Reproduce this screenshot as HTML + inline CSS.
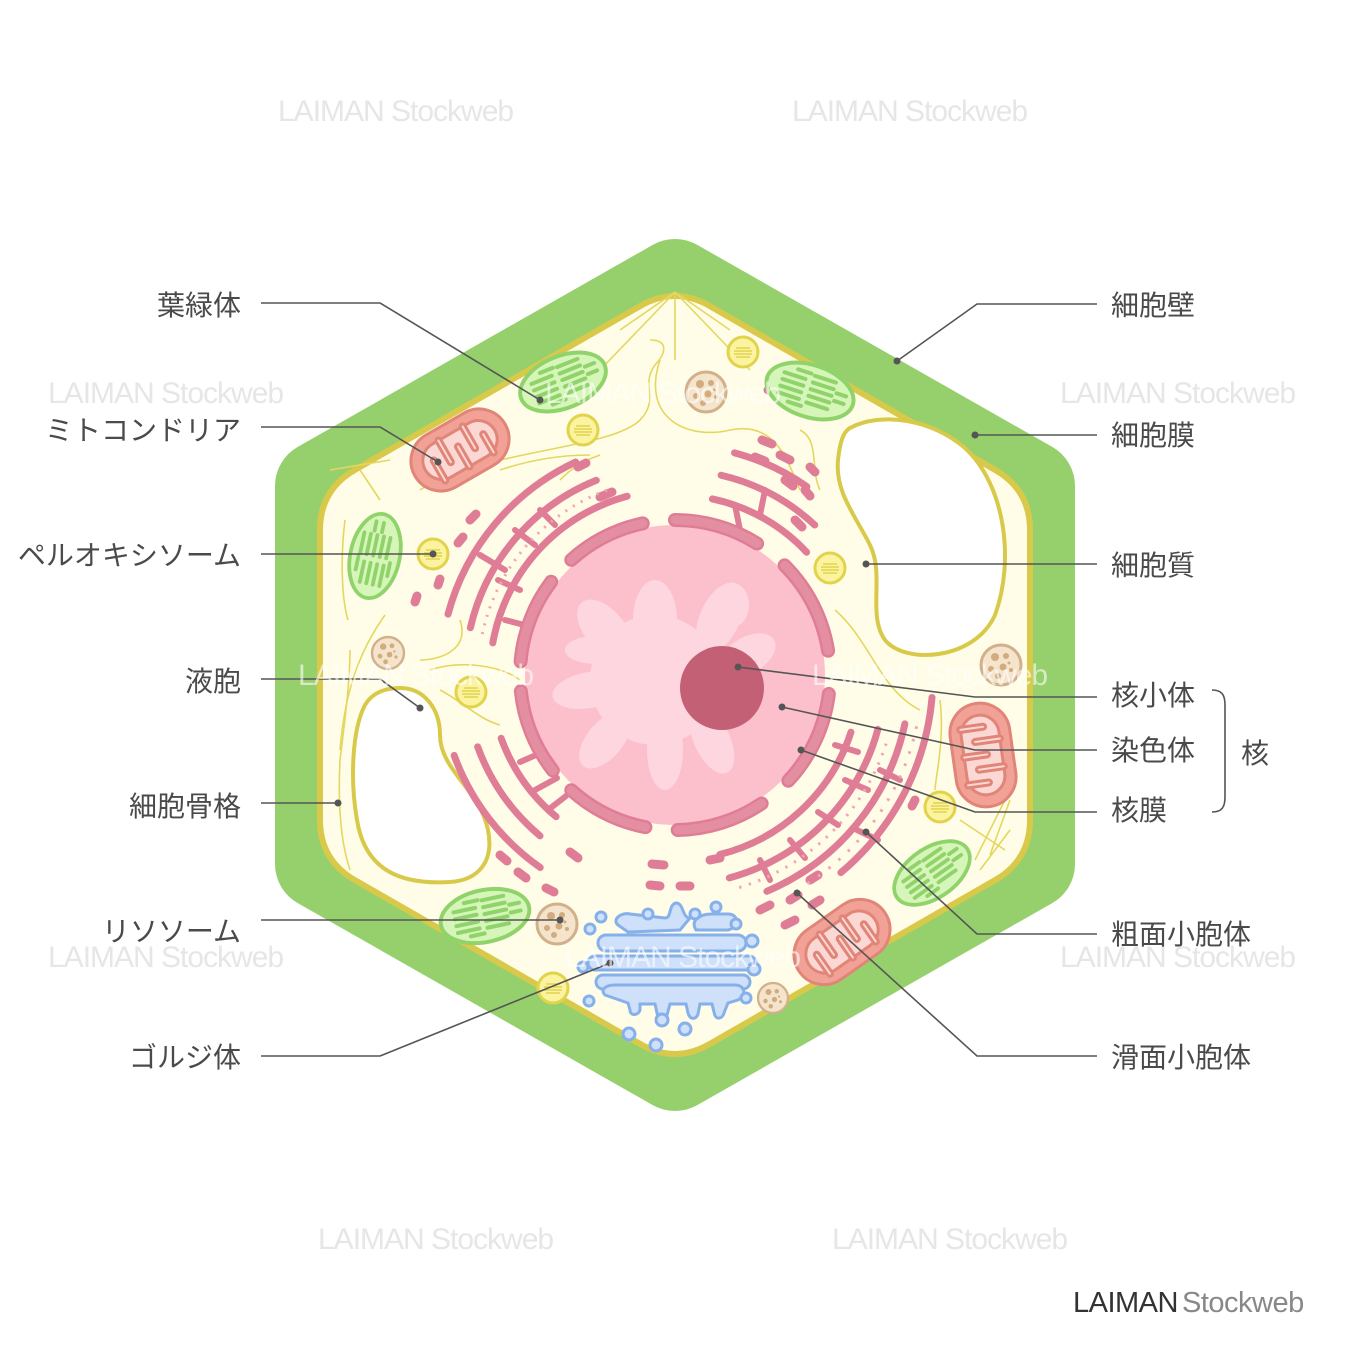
<!DOCTYPE html>
<html><head><meta charset="utf-8"><style>
html,body{margin:0;padding:0;background:#fff;}
svg{display:block;}
.lb{font-family:"Liberation Sans","Noto Sans CJK JP",sans-serif;font-size:28px;fill:#4a4a4a;}
.wm{font-family:"Liberation Sans",sans-serif;font-size:30px;fill:#e6e6e6;letter-spacing:-1px;}
</style></head><body>
<svg width="1350" height="1350" viewBox="0 0 1350 1350" xmlns="http://www.w3.org/2000/svg">
<defs>
<g id="chl">
 <ellipse cx="0" cy="0" rx="45" ry="26" fill="#d6f5b8" stroke="#8fd36a" stroke-width="4"/>
 <g stroke="#8fd36a" stroke-width="4" stroke-linecap="round">
  <line x1="-30" y1="-10" x2="-8" y2="-10"/><line x1="-30" y1="-3" x2="-8" y2="-3"/><line x1="-30" y1="4" x2="-8" y2="4"/><line x1="-30" y1="11" x2="-8" y2="11"/>
  <line x1="0" y1="-16" x2="22" y2="-16"/><line x1="0" y1="-9" x2="22" y2="-9"/><line x1="0" y1="-2" x2="22" y2="-2"/><line x1="0" y1="5" x2="22" y2="5"/><line x1="0" y1="12" x2="22" y2="12"/>
  <line x1="26" y1="-6" x2="36" y2="-6"/><line x1="26" y1="2" x2="36" y2="2"/><line x1="-18" y1="-17" x2="-4" y2="-17"/><line x1="-18" y1="17" x2="-4" y2="17"/>
 </g>
</g>
<g id="mit">
 <rect x="-52" y="-30" width="104" height="60" rx="30" fill="#f2a196" stroke="#e08578" stroke-width="3"/>
 <rect x="-40" y="-19" width="80" height="38" rx="19" fill="#fbd8d4" stroke="#e08578" stroke-width="3"/>
 <path d="M-28 19 V-4 M-14 -19 V6 M0 19 V-4 M14 -19 V6 M28 19 V-2" stroke="#e08578" stroke-width="8" stroke-linecap="round"/>
 <path d="M-28 19 V-4 M-14 -19 V6 M0 19 V-4 M14 -19 V6 M28 19 V-2" stroke="#fbd8d4" stroke-width="2" stroke-linecap="round"/>
</g>
<g id="per">
 <circle r="15" fill="#fbf3a0" stroke="#e2d34c" stroke-width="3"/>
 <g stroke="#e2d34c" stroke-width="1.5"><line x1="-7" y1="-4" x2="7" y2="-4"/><line x1="-9" y1="-1" x2="9" y2="-1"/><line x1="-9" y1="2" x2="9" y2="2"/><line x1="-7" y1="5" x2="7" y2="5"/></g>
</g>
<g id="lys">
 <circle r="20" fill="#f4e4cc" stroke="#d2b08a" stroke-width="3"/>
 <g fill="#d2ab7e"><circle cx="-6" cy="-8" r="4"/><circle cx="5" cy="-9" r="3"/><circle cx="-10" cy="4" r="3"/><circle cx="2" cy="2" r="3.5"/><circle cx="10" cy="5" r="2"/><circle cx="-3" cy="11" r="3"/><circle cx="8" cy="-2" r="1.5"/></g>
</g>
</defs>

<g class="wm">
<text x="278" y="121">LAIMAN Stockweb</text><text x="792" y="121">LAIMAN Stockweb</text>
<text x="48" y="403">LAIMAN Stockweb</text><text x="1060" y="403">LAIMAN Stockweb</text>
<text x="48" y="967">LAIMAN Stockweb</text><text x="1060" y="967">LAIMAN Stockweb</text>
<text x="318" y="1249">LAIMAN Stockweb</text><text x="832" y="1249">LAIMAN Stockweb</text>
</g>

<!-- cell wall -->
<polygon points="675,284 1030,486 1030,864 675,1066 320,864 320,486" fill="#96d06c" stroke="#96d06c" stroke-width="90" stroke-linejoin="round"/>
<!-- cytoplasm + membrane -->
<path d="M640.3,306 Q675,286 709.7,306 L995.3,470 Q1030,490 1030,530 L1030,820 Q1030,860 995.3,880 L709.7,1044 Q675,1064 640.3,1044 L354.7,880 Q320,860 320,820 L320,530 Q320,490 354.7,470 Z" fill="#fffde8" stroke="#d9c94a" stroke-width="6"/>

<!-- cytoskeleton -->
<g fill="none" stroke="#e4d75e" stroke-width="1.6">
<path d="M675,292 L600,370 M675,292 L750,370 M675,292 L675,360 M675,292 L620,330 M675,292 L730,330"/>
<path d="M650,340 C670,340 665,355 655,365 C640,385 660,400 640,420 C610,450 480,450 420,490"/>
<path d="M660,360 C640,420 690,440 730,430 C780,420 790,470 800,490"/>
<path d="M800,430 C820,440 810,470 820,490"/>
<path d="M330,470 L390,460 M360,470 L380,500 M600,455 C580,462 570,470 560,480"/>
<path d="M345,520 C340,560 342,600 348,620 M350,650 C350,680 345,720 340,760"/>
<path d="M385,615 C360,650 345,690 340,750 M340,760 C338,800 340,840 350,870"/>
<path d="M1005,800 L975,860 M1005,850 L960,820 M1010,830 L980,870 M990,855 L1010,800"/>
<path d="M835,610 C870,640 880,690 920,710 M940,700 C945,740 935,780 935,790"/>
<path d="M460,620 C470,650 440,660 420,660 M430,670 C460,660 500,665 520,680"/>
<path d="M440,690 C460,700 480,720 500,725"/>
<path d="M500,470 C530,460 560,455 590,455"/>
</g>

<!-- vacuoles -->
<path d="M850,428 C880,412 930,418 965,448 C1005,485 1015,560 995,615 C975,660 905,665 885,640 C867,615 885,575 870,545 C855,515 835,492 838,460 C840,442 843,432 850,428 Z" fill="#fff" stroke="#d9c94a" stroke-width="4"/>
<path d="M400,688 C425,688 440,710 440,735 C440,770 480,790 488,830 C494,860 480,880 450,882 C400,885 365,870 357,820 C350,780 352,730 365,705 C372,693 385,688 400,688 Z" fill="#fff" stroke="#d9c94a" stroke-width="4"/>

<!-- ER -->
<g fill="none" stroke="#e07d96" stroke-width="7" stroke-linecap="round">
<circle cx="675" cy="675" r="185" pathLength="360" stroke-dasharray="65 360" transform="rotate(190 675 675)"/>
<circle cx="675" cy="675" r="210" pathLength="360" stroke-dasharray="55 360" transform="rotate(193 675 675)"/>
<circle cx="675" cy="675" r="235" pathLength="360" stroke-dasharray="50 360" transform="rotate(195 675 675)"/>
<circle cx="675" cy="675" r="185" pathLength="360" stroke-dasharray="30 360" transform="rotate(130 675 675)"/>
<circle cx="675" cy="675" r="210" pathLength="360" stroke-dasharray="30 360" transform="rotate(130 675 675)"/>
<circle cx="675" cy="675" r="235" pathLength="360" stroke-dasharray="35 360" transform="rotate(125 675 675)"/>
<circle cx="675" cy="675" r="180" pathLength="360" stroke-dasharray="35 360" transform="rotate(282 675 675)"/>
<circle cx="675" cy="675" r="205" pathLength="360" stroke-dasharray="30 360" transform="rotate(283 675 675)"/>
<circle cx="675" cy="675" r="230" pathLength="360" stroke-dasharray="20 360" transform="rotate(285 675 675)"/>
<circle cx="675" cy="675" r="185" pathLength="360" stroke-dasharray="58 360" transform="rotate(18 675 675)"/>
<circle cx="675" cy="675" r="210" pathLength="360" stroke-dasharray="60 360" transform="rotate(15 675 675)"/>
<circle cx="675" cy="675" r="235" pathLength="360" stroke-dasharray="55 360" transform="rotate(12 675 675)"/>
<circle cx="675" cy="675" r="258" pathLength="360" stroke-dasharray="45 360" transform="rotate(5 675 675)"/>
</g>
<g stroke="#e07d96" stroke-width="9" stroke-linecap="round">
<line x1="578" y1="467" x2="586" y2="463"/><line x1="600" y1="497" x2="612" y2="492"/>
<line x1="470" y1="520" x2="476" y2="514"/><line x1="458" y1="543" x2="463" y2="537"/>
<line x1="415" y1="602" x2="417" y2="596"/><line x1="438" y1="585" x2="440" y2="579"/>
<line x1="762" y1="440" x2="772" y2="444"/><line x1="780" y1="455" x2="790" y2="460"/><line x1="755" y1="457" x2="765" y2="461"/><line x1="785" y1="480" x2="793" y2="486"/><line x1="795" y1="520" x2="802" y2="527"/><line x1="810" y1="467" x2="815" y2="472"/><line x1="805" y1="490" x2="810" y2="496"/>
<line x1="768" y1="390" x2="778" y2="394"/>
<line x1="500" y1="855" x2="507" y2="861"/><line x1="518" y1="872" x2="526" y2="878"/><line x1="546" y1="888" x2="554" y2="892"/><line x1="570" y1="852" x2="578" y2="858"/>
<line x1="652" y1="864" x2="664" y2="865"/><line x1="650" y1="885" x2="660" y2="886"/><line x1="680" y1="886" x2="690" y2="886"/><line x1="710" y1="860" x2="720" y2="858"/>
<line x1="915" y1="800" x2="912" y2="806"/>
<line x1="760" y1="910" x2="770" y2="905"/><line x1="785" y1="925" x2="795" y2="920"/><line x1="790" y1="900" x2="798" y2="895"/><line x1="810" y1="880" x2="818" y2="875"/><line x1="812" y1="905" x2="820" y2="900"/>
</g>
<g stroke="#e07d96" stroke-width="6" stroke-linecap="round">
<line x1="498" y1="580" x2="520" y2="590"/><line x1="480" y1="555" x2="505" y2="570"/><line x1="515" y1="530" x2="535" y2="545"/><line x1="540" y1="510" x2="555" y2="525"/><line x1="505" y1="620" x2="528" y2="626"/>
<line x1="520" y1="762" x2="543" y2="752"/><line x1="535" y1="790" x2="557" y2="778"/><line x1="548" y1="810" x2="566" y2="796"/>
<line x1="735" y1="505" x2="740" y2="530"/><line x1="765" y1="490" x2="760" y2="515"/>
<line x1="835" y1="745" x2="858" y2="752"/><line x1="845" y1="780" x2="868" y2="790"/><line x1="880" y1="770" x2="900" y2="780"/><line x1="818" y1="812" x2="838" y2="825"/><line x1="790" y1="840" x2="805" y2="858"/><line x1="760" y1="860" x2="770" y2="880"/><line x1="857" y1="830" x2="878" y2="840"/>
</g>
<!-- ribosome dots limited to ER arcs -->
<g fill="none" stroke="#f0a5b5" stroke-width="3">
<circle cx="675" cy="675" r="197" pathLength="360" stroke-dasharray="0.6 2 0.6 2 0.6 2 0.6 2 0.6 2 0.6 2 0.6 2 0.6 2 0.6 2 0.6 2 0.6 2 0.6 2 0.6 2 0.6 2 0.6 2 0.6 2 0.6 2 0.6 2 0.6 2 0.6 2 0.6 2 0.6 2 0.6 2 0 400" transform="rotate(192 675 675)"/>
<circle cx="675" cy="675" r="222" pathLength="360" stroke-dasharray="0.6 2 0.6 2 0.6 2 0.6 2 0.6 2 0.6 2 0.6 2 0.6 2 0.6 2 0.6 2 0.6 2 0.6 2 0.6 2 0.6 2 0.6 2 0.6 2 0.6 2 0.6 2 0.6 2 0.6 2 0.6 2 0.6 2 0 400" transform="rotate(18 675 675)"/>
<circle cx="675" cy="675" r="247" pathLength="360" stroke-dasharray="0.6 2.4 0.6 2.4 0.6 2.4 0.6 2.4 0.6 2.4 0.6 2.4 0.6 2.4 0.6 2.4 0.6 2.4 0.6 2.4 0.6 2.4 0.6 2.4 0.6 2.4 0.6 2.4 0.6 2.4 0.6 2.4 0 400" transform="rotate(12 675 675)"/>
</g>

<!-- nucleus -->
<circle cx="675" cy="675" r="150" fill="#fcc0cd"/>
<g fill="#fdd6df">
<circle cx="655" cy="680" r="65"/>
<ellipse cx="655" cy="620" rx="22" ry="40"/><ellipse cx="720" cy="618" rx="20" ry="38" transform="rotate(25 720 618)"/>
<ellipse cx="605" cy="630" rx="20" ry="36" transform="rotate(-40 605 630)"/><ellipse cx="590" cy="690" rx="38" ry="18" transform="rotate(-10 590 690)"/>
<ellipse cx="605" cy="740" rx="18" ry="34" transform="rotate(40 605 740)"/><ellipse cx="665" cy="750" rx="18" ry="40"/>
<ellipse cx="712" cy="740" rx="18" ry="36" transform="rotate(-25 712 740)"/><ellipse cx="748" cy="655" rx="30" ry="18" transform="rotate(-30 748 655)"/>
<ellipse cx="733" cy="605" rx="16" ry="22"/><ellipse cx="595" cy="650" rx="30" ry="14"/>
</g>
<circle cx="722" cy="688" r="42" fill="#c46075"/>
<g fill="none" stroke="#e07d96" stroke-width="14" stroke-linecap="round">
<circle cx="675" cy="675" r="155" pathLength="360" stroke-dasharray="32 360" transform="rotate(185 675 675)"/>
<circle cx="675" cy="675" r="155" pathLength="360" stroke-dasharray="30 360" transform="rotate(228 675 675)"/>
<circle cx="675" cy="675" r="155" pathLength="360" stroke-dasharray="32 360" transform="rotate(270 675 675)"/>
<circle cx="675" cy="675" r="155" pathLength="360" stroke-dasharray="36 360" transform="rotate(315 675 675)"/>
<circle cx="675" cy="675" r="155" pathLength="360" stroke-dasharray="36 360" transform="rotate(7 675 675)"/>
<circle cx="675" cy="675" r="155" pathLength="360" stroke-dasharray="33 360" transform="rotate(56 675 675)"/>
<circle cx="675" cy="675" r="155" pathLength="360" stroke-dasharray="31 360" transform="rotate(101 675 675)"/>
<circle cx="675" cy="675" r="155" pathLength="360" stroke-dasharray="32 360" transform="rotate(142 675 675)"/>
</g>
<g fill="none" stroke="#e48ea2" stroke-width="9" stroke-linecap="round">
<circle cx="675" cy="675" r="155" pathLength="360" stroke-dasharray="32 360" transform="rotate(185 675 675)"/>
<circle cx="675" cy="675" r="155" pathLength="360" stroke-dasharray="30 360" transform="rotate(228 675 675)"/>
<circle cx="675" cy="675" r="155" pathLength="360" stroke-dasharray="32 360" transform="rotate(270 675 675)"/>
<circle cx="675" cy="675" r="155" pathLength="360" stroke-dasharray="36 360" transform="rotate(315 675 675)"/>
<circle cx="675" cy="675" r="155" pathLength="360" stroke-dasharray="36 360" transform="rotate(7 675 675)"/>
<circle cx="675" cy="675" r="155" pathLength="360" stroke-dasharray="33 360" transform="rotate(56 675 675)"/>
<circle cx="675" cy="675" r="155" pathLength="360" stroke-dasharray="31 360" transform="rotate(101 675 675)"/>
<circle cx="675" cy="675" r="155" pathLength="360" stroke-dasharray="32 360" transform="rotate(142 675 675)"/>
</g>

<!-- organelles -->
<use href="#chl" transform="translate(563,382) rotate(-22)"/>
<use href="#chl" transform="translate(810,391) rotate(18)"/>
<use href="#chl" transform="translate(375,556) rotate(-78) scale(0.95)"/>
<use href="#chl" transform="translate(932,873) rotate(-35) scale(0.95)"/>
<use href="#chl" transform="translate(485,916) rotate(-12)"/>
<use href="#mit" transform="translate(460,450) rotate(-30)"/>
<use href="#mit" transform="translate(983,755) rotate(82)"/>
<use href="#mit" transform="translate(842,942) rotate(-35)"/>
<use href="#per" transform="translate(743,352)"/>
<use href="#per" transform="translate(583,430)"/>
<use href="#per" transform="translate(433,554)"/>
<use href="#per" transform="translate(830,568)"/>
<use href="#per" transform="translate(471,692)"/>
<use href="#per" transform="translate(940,807)"/>
<use href="#per" transform="translate(553,988)"/>
<use href="#lys" transform="translate(706,392)"/>
<use href="#lys" transform="translate(388,653) scale(0.8)"/>
<use href="#lys" transform="translate(1001,665)"/>
<use href="#lys" transform="translate(557,924)"/>
<use href="#lys" transform="translate(773,998) scale(0.75)"/>

<!-- golgi -->
<g fill="#cfe0fb" stroke="#86b0ea" stroke-width="3">
<path d="M618,925 C612,920 620,912 630,914 L665,918 C672,918 668,905 676,903 C684,903 682,918 690,918 L680,930 L628,932 Z"/>
<path d="M696,930 C690,920 700,914 712,914 L728,914 C740,914 738,928 728,930 Z"/>
<rect x="598" y="935" width="148" height="16" rx="8"/>
<rect x="588" y="956" width="168" height="14" rx="7"/>
<rect x="596" y="975" width="154" height="14" rx="7"/>
<path d="M605,995 C600,990 605,985 615,985 L735,985 C745,985 747,995 738,1000 L728,1003 L724,1013 C722,1020 715,1020 714,1012 L712,1004 L700,1004 L698,1014 C696,1020 690,1020 688,1013 L686,1004 L670,1004 L667,1015 C665,1020 658,1020 657,1013 L655,1004 L640,1004 L640,1010 C638,1016 630,1016 630,1010 L628,1003 Z"/>
</g>
<g fill="#cfe0fb" stroke="#86b0ea" stroke-width="3">
<circle cx="601" cy="917" r="5"/><circle cx="590" cy="929" r="5"/><circle cx="648" cy="914" r="5"/><circle cx="695" cy="914" r="5"/><circle cx="716" cy="907" r="5"/><circle cx="736" cy="924" r="5"/>
<circle cx="752" cy="941" r="6"/><circle cx="754" cy="969" r="6"/><circle cx="583" cy="967" r="5"/><circle cx="589" cy="1001" r="5"/><circle cx="746" cy="998" r="5"/>
<circle cx="662" cy="1020" r="6"/><circle cx="685" cy="1029" r="6"/><circle cx="629" cy="1034" r="6"/><circle cx="656" cy="1045" r="6"/>
</g>

<!-- leader lines -->
<g fill="none" stroke="#555" stroke-width="1.6">
<polyline points="261,303 380,303 540,400"/>
<polyline points="261,427 380,427 438,462"/>
<polyline points="261,554 433,554"/>
<polyline points="261,679 380,679 420,708"/>
<polyline points="261,803 338,803"/>
<polyline points="261,920 560,920"/>
<polyline points="261,1056 380,1056 610,963"/>
<polyline points="1097,304 977,304 897,361"/>
<polyline points="1097,435 975,435"/>
<polyline points="1097,564 866,564"/>
<polyline points="1097,697 975,697 738,667"/>
<polyline points="1097,750 975,750 782,707"/>
<polyline points="1097,812 975,812 801,750"/>
<polyline points="1097,934 977,934 866,832"/>
<polyline points="1097,1056 977,1056 797,893"/>
<path d="M1212,690 C1222,690 1225,695 1225,705 L1225,797 C1225,807 1222,812 1212,812"/>
</g>
<g fill="#555">
<circle cx="540" cy="400" r="3.5"/><circle cx="438" cy="462" r="3.5"/><circle cx="433" cy="554" r="3.5"/><circle cx="420" cy="708" r="3.5"/><circle cx="338" cy="803" r="3.5"/><circle cx="560" cy="920" r="3.5"/><circle cx="610" cy="963" r="3.5"/>
<circle cx="897" cy="361" r="3.5"/><circle cx="975" cy="435" r="3.5"/><circle cx="866" cy="564" r="3.5"/><circle cx="738" cy="667" r="3.5"/><circle cx="782" cy="707" r="3.5"/><circle cx="801" cy="750" r="3.5"/><circle cx="866" cy="832" r="3.5"/><circle cx="797" cy="893" r="3.5"/>
</g>

<g class="lb" text-anchor="end">
<text x="241" y="315">葉緑体</text>
<text x="241" y="440">ミトコンドリア</text>
<text x="241" y="565">ペルオキシソーム</text>
<text x="241" y="691">液胞</text>
<text x="241" y="816">細胞骨格</text>
<text x="241" y="941">リソソーム</text>
<text x="241" y="1067">ゴルジ体</text>
</g>
<g class="lb">
<text x="1111" y="315">細胞壁</text>
<text x="1111" y="445">細胞膜</text>
<text x="1111" y="575">細胞質</text>
<text x="1111" y="705">核小体</text>
<text x="1111" y="760">染色体</text>
<text x="1111" y="820">核膜</text>
<text x="1241" y="763">核</text>
<text x="1111" y="944">粗面小胞体</text>
<text x="1111" y="1067">滑面小胞体</text>
</g>

<g class="wm" style="fill:#ffffff;opacity:0.6">
<text x="545" y="403">LAIMAN Stockweb</text>
<text x="298" y="685">LAIMAN Stockweb</text><text x="812" y="685">LAIMAN Stockweb</text>
<text x="565" y="967">LAIMAN Stockweb</text>
</g>
<text x="1073" y="1312" style="font-family:'Liberation Sans',sans-serif;font-size:29px;fill:#333;letter-spacing:-0.5px">LAIMAN<tspan fill="#888" dx="4">Stockweb</tspan></text>
</svg>
</body></html>
